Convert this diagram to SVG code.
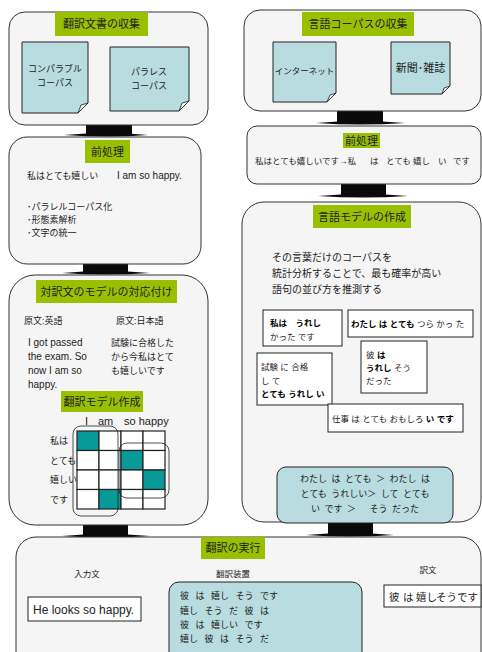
<svg xmlns="http://www.w3.org/2000/svg" width="482" height="652" viewBox="0 0 482 652">
<style>
text{font-family:"Liberation Sans","Noto Sans CJK JP",sans-serif;fill:#222}
.box{fill:#f5f5f5;stroke:#333;stroke-width:1}
.ttl{fill:#99c000}
.tt{font-size:11px;text-anchor:middle}
.note{fill:#b8dcdf;stroke:#222;stroke-width:1}
.fold{fill:#e8f4f4;stroke:#222;stroke-width:0.8}
.t{font-size:9px}
.e{font-size:10px}
.m{font-size:10px}
.s{font-size:8.5px}
.o{font-size:10.5px}
.b{font-weight:bold;fill:#000}
.wb{fill:#fff;stroke:#222;stroke-width:1}
.conn{fill:#0a0a0a}
.cell{fill:#fff;stroke:#222;stroke-width:1.2}
.on{fill:#089a99;stroke:#222;stroke-width:1.2}
.ln{stroke:#222;stroke-width:0.8;fill:none}
</style>
<defs>
<marker id="ah" markerWidth="6" markerHeight="6" refX="5" refY="3" orient="auto" markerUnits="userSpaceOnUse">
<path d="M0,1 L5,3 L0,5 z" fill="#222"/>
</marker>
</defs>

<g id="connectors">
<rect class="conn" x="86" y="125" width="46" height="10"/>
<path class="conn" d="M64,135 Q109,131 148,135 Q109,138 64,135z"/>
<rect class="conn" x="337" y="111" width="46" height="12"/>
<path class="conn" d="M316,123 Q360,119 405,123 Q360,126 316,123z"/>
<rect class="conn" x="83" y="264" width="45" height="9"/>
<path class="conn" d="M62,273 Q105,269 150,273 Q105,276 62,273z"/>
<rect class="conn" x="341" y="184" width="45" height="12"/>
<path class="conn" d="M318,196 Q363,192 408,196 Q363,199 318,196z"/>
<rect class="conn" x="328" y="523" width="45" height="12"/>
<path class="conn" d="M306,535 Q350,531 394,535 Q350,538 306,535z"/>
<rect class="conn" x="83" y="525" width="45" height="11"/>
<path class="conn" d="M62,536 Q105,532 150,536 Q105,539 62,536z"/>
<line class="ln" x1="362" y1="432" x2="362" y2="466" marker-end="url(#ah)"/>
<line class="ln" x1="141" y1="605" x2="168" y2="605" marker-end="url(#ah)"/>
<line class="ln" x1="338" y1="593" x2="383" y2="593" marker-end="url(#ah)"/>
</g>

<g id="n1">
<rect class="box" x="9" y="12" width="199" height="113" rx="16"/>
<rect class="ttl" x="55" y="12" width="93" height="24"/>
<text class="tt" x="101.5" y="28">翻訳文書の収集</text>
<path class="note" d="M22,42 H88 V103 L78,113 H22 Z"/>
<path class="fold" d="M88,103 L78,113 L81,105 Z"/>
<text class="t" x="55" y="72" text-anchor="middle">コンパラブル</text>
<text class="t" x="55" y="86" text-anchor="middle">コーパス</text>
<path class="note" d="M110,47 H189 V101 L179,111 H110 Z"/>
<path class="fold" d="M189,101 L179,111 L182,103 Z"/>
<text class="t" x="149" y="75" text-anchor="middle">パラレス</text>
<text class="t" x="149" y="89" text-anchor="middle">コーパス</text>
</g>

<g id="n2">
<rect class="box" x="244" y="10" width="237" height="101" rx="16"/>
<rect class="ttl" x="302" y="12" width="112" height="24"/>
<text class="tt" x="358" y="28">言語コーパスの収集</text>
<path class="note" d="M273,42 H336 V93 L327,102 H273 Z"/>
<path class="fold" d="M336,93 L327,102 L330,95 Z"/>
<text class="s" x="304.5" y="74" text-anchor="middle">インターネット</text>
<path class="note" d="M391,42 H450 V86 L442,94 H391 Z"/>
<path class="fold" d="M450,86 L442,94 L444,88 Z"/>
<text x="420.5" y="72" text-anchor="middle" style="font-size:11px">新聞･雑誌</text>
</g>

<g id="n3">
<rect class="box" x="9" y="137" width="192" height="127" rx="18"/>
<rect class="ttl" x="85" y="140" width="45" height="23"/>
<text class="tt" x="107.5" y="156">前処理</text>
<text class="t" x="27" y="179">私はとても嬉しい</text>
<text class="e" x="117" y="179">I am so  happy.</text>
<text class="t" x="27" y="210">･パラレルコーパス化</text>
<text class="t" x="27" y="223">･形態素解析</text>
<text class="t" x="27" y="236">･文字の統一</text>
</g>

<g id="n4">
<rect class="box" x="247" y="126" width="234" height="58" rx="10"/>
<rect class="ttl" x="343" y="133" width="37" height="15"/>
<text class="tt" x="361.5" y="145">前処理</text>
<text class="s" y="164"><tspan x="255">私はとても嬉しいです→私</tspan><tspan x="370">は</tspan><tspan x="386">とても</tspan><tspan x="413">嬉し</tspan><tspan x="438">い</tspan><tspan x="453">です</tspan></text>
</g>

<g id="n5">
<rect class="box" x="242" y="202" width="239" height="320" rx="22"/>
<rect class="ttl" x="313" y="205" width="98" height="23"/>
<text class="tt" x="362" y="221">言語モデルの作成</text>
<text class="m" x="272" y="261">その言葉だけのコーパスを</text>
<text class="m" x="272" y="277">統計分析することで、最も確率が高い</text>
<text class="m" x="272" y="293">語句の並び方を推測する</text>
<rect class="wb" x="263" y="310" width="79" height="36"/>
<text class="s b" x="270" y="326">私は　うれし</text>
<text class="s" x="270" y="340">かった です</text>
<rect class="wb" x="348" y="310" width="125" height="27"/>
<text class="s" x="351" y="327"><tspan class="b">わたし は とても</tspan> つら かっ た</text>
<rect class="wb" x="257" y="353" width="75" height="52"/>
<text class="s" x="261" y="370">試験 に 合格</text>
<text class="s" x="261" y="384">し て</text>
<text class="s b" x="261" y="397">とても うれし い</text>
<rect class="wb" x="361" y="341" width="66" height="52"/>
<text class="s" x="366" y="358">彼 <tspan class="b">は</tspan></text>
<text class="s" x="366" y="371"><tspan class="b">うれし</tspan> そう</text>
<text class="s" x="366" y="384">だった</text>
<rect class="wb" x="328" y="404" width="135" height="28"/>
<text class="s" x="332" y="422">仕事 は とても おもしろ <tspan class="b">い です</tspan></text>
<rect class="note" x="277" y="467" width="176" height="56" rx="9"/>
<text class="t" x="365" y="482" text-anchor="middle" style="word-spacing:2px">わたし は とても ＞ わたし は</text>
<text class="t" x="365" y="497" text-anchor="middle" style="word-spacing:2px">とても うれしい＞ して とても</text>
<text class="t" x="365" y="512" text-anchor="middle" style="word-spacing:2px">い です ＞　 そう だった</text>
</g>

<g id="n6">
<rect class="box" x="9" y="275" width="199" height="250" rx="26"/>
<rect class="ttl" x="36" y="280" width="141" height="23"/>
<text class="tt" x="106.5" y="296">対訳文のモデルの対応付け</text>
<text class="t" x="24" y="324">原文:英語</text>
<text class="t" x="116" y="324">原文:日本語</text>
<text class="e" x="28" y="346">I got passed</text>
<text class="e" x="28" y="360">the exam. So</text>
<text class="e" x="28" y="374">now I am so</text>
<text class="e" x="28" y="388">happy.</text>
<text class="t" x="111" y="346">試験に合格した</text>
<text class="t" x="111" y="360">から今私はとて</text>
<text class="t" x="111" y="374">も嬉しいです</text>
<rect class="ttl" x="61" y="391" width="82" height="21"/>
<text class="tt" x="102" y="406">翻訳モデル作成</text>
<text x="85" y="425" style="font-size:11px">I</text>
<text x="98" y="425" style="font-size:11px">am</text>
<text x="124" y="425" style="font-size:11px">so happy</text>
<rect class="on" x="77" y="431" width="22" height="19.5"/>
<rect class="cell" x="99" y="431" width="22" height="19.5"/>
<rect class="cell" x="121" y="431" width="22" height="19.5"/>
<rect class="cell" x="143" y="431" width="22" height="19.5"/>
<rect class="cell" x="77" y="450.5" width="22" height="19.5"/>
<rect class="cell" x="99" y="450.5" width="22" height="19.5"/>
<rect class="on" x="121" y="450.5" width="22" height="19.5"/>
<rect class="cell" x="143" y="450.5" width="22" height="19.5"/>
<rect class="cell" x="77" y="470" width="22" height="19.5"/>
<rect class="cell" x="99" y="470" width="22" height="19.5"/>
<rect class="cell" x="121" y="470" width="22" height="19.5"/>
<rect class="on" x="143" y="470" width="22" height="19.5"/>
<rect class="cell" x="77" y="489.5" width="22" height="19.5"/>
<rect class="on" x="99" y="489.5" width="22" height="19.5"/>
<rect class="cell" x="121" y="489.5" width="22" height="19.5"/>
<rect class="cell" x="143" y="489.5" width="22" height="19.5"/>
<text class="t" x="50" y="444">私は</text>
<text class="t" x="50" y="464">とても</text>
<text class="t" x="50" y="483">嬉しい</text>
<text class="t" x="50" y="503">です</text>
<rect class="ln" x="73" y="426" width="45" height="90" rx="8"/>
<rect class="ln" x="119" y="443" width="50" height="55" rx="8"/>
</g>

<g id="n7">
<rect class="box" x="16" y="537" width="465" height="135" rx="20"/>
<rect class="ttl" x="201" y="537" width="64" height="22"/>
<text class="tt" x="233" y="552">翻訳の実行</text>
<text class="s" x="87" y="577" text-anchor="middle">入力文</text>
<text class="s" x="233" y="577" text-anchor="middle">翻訳装置</text>
<text class="s" x="428" y="573" text-anchor="middle">訳文</text>
<rect class="wb" x="28" y="597" width="113" height="24"/>
<text x="33" y="614" style="font-size:12px">He looks so happy.</text>
<rect class="note" x="169" y="582" width="193" height="85" rx="10"/>
<text class="t" x="180" y="599" style="word-spacing:4px">彼 は 嬉し そう です</text>
<text class="t" x="180" y="614" style="word-spacing:4px">嬉し そう だ 彼 は</text>
<text class="t" x="180" y="628" style="word-spacing:4px">彼 は 嬉しい です</text>
<text class="t" x="180" y="642" style="word-spacing:4px">嬉し 彼 は そう だ</text>
<rect class="wb" x="384" y="585" width="97" height="22"/>
<text class="o" y="601"><tspan x="389">彼</tspan><tspan x="403">は</tspan><tspan x="416">嬉し</tspan><tspan x="436">そうです</tspan></text>
</g>
</svg>
